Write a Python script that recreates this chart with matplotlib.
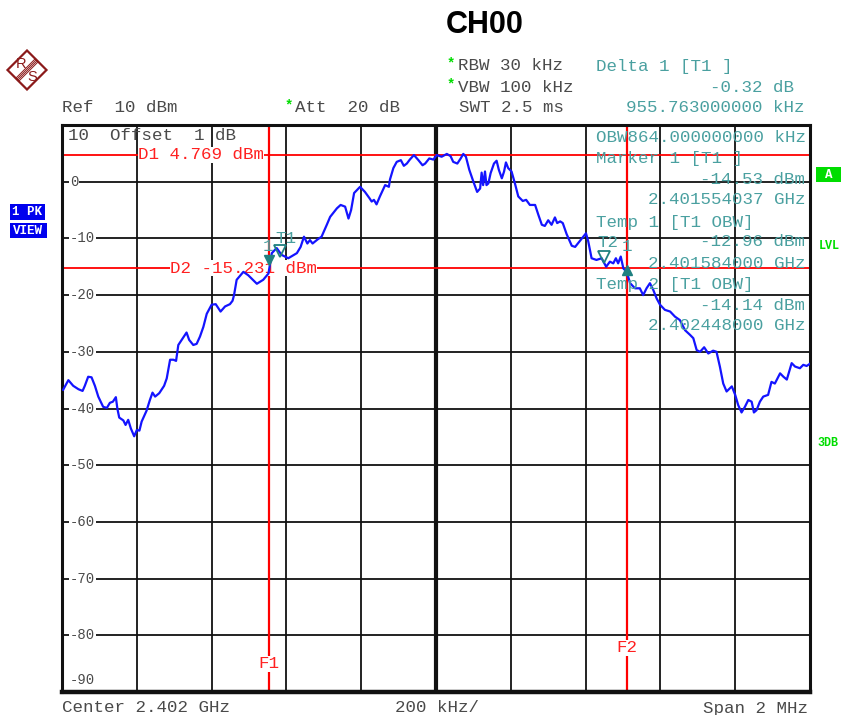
import matplotlib
matplotlib.use("Agg")
import matplotlib.pyplot as plt
import numpy as np
from matplotlib.patches import Polygon, Rectangle
import matplotlib.transforms as mtransforms

# ---------------- data ----------------
start_ghz = 2.401
center_ghz = 2.402
span_mhz = 2
# trace: frequency offset from span start (kHz) and level (dBm)
freq_offset_khz = [3, 17, 30, 44, 55, 61, 70, 79, 88, 97, 110, 120, 128, 136, 144, 148, 153, 164,
                   170, 177, 184, 193, 200, 207, 213, 226, 235, 242, 249, 260, 273, 280, 289, 298,
                   305, 311, 323, 333, 340, 351, 360, 369, 378, 387, 400, 411, 424, 436, 449, 456,
                   460, 467, 485, 498, 521, 538, 552, 561, 574, 587, 605, 628, 638, 647, 656, 663,
                   670, 683, 694, 708, 717, 735, 745, 757, 766, 773, 781, 797, 810, 822, 828, 834,
                   841, 850, 864, 874, 877, 886, 895, 906, 914, 922, 930, 941, 953, 964, 971, 982,
                   993, 1002, 1015, 1029, 1039, 1046, 1057, 1066, 1073, 1080, 1089, 1100, 1110,
                   1118, 1122, 1126, 1131, 1135, 1140, 1146, 1155, 1162, 1168, 1176, 1182, 1187,
                   1193, 1202, 1211, 1220, 1232, 1241, 1251, 1265, 1274, 1283, 1291, 1300, 1309,
                   1318, 1324, 1332, 1339, 1349, 1363, 1372, 1383, 1394, 1401, 1407, 1416, 1429,
                   1443, 1455, 1465, 1474, 1481, 1487, 1494, 1501, 1510, 1519, 1532, 1545, 1554,
                   1563, 1572, 1581, 1590, 1599, 1612, 1626, 1639, 1652, 1666, 1679, 1688, 1697,
                   1706, 1717, 1728, 1741, 1750, 1759, 1768, 1777, 1791, 1800, 1808, 1817, 1826,
                   1835, 1844, 1850, 1857, 1866, 1875, 1888, 1897, 1906, 1920, 1929, 1938, 1951,
                   1960, 1973, 1982, 1991, 2000]
level_dbm = [-36.7, -35.0, -36.0, -36.6, -36.9, -36.0, -34.4, -34.5, -36.0, -37.9, -39.7, -39.9,
             -39.0, -38.8, -38.0, -40.0, -41.6, -42.1, -42.9, -42.0, -43.5, -44.9, -43.8, -43.9,
             -42.3, -40.4, -38.5, -37.2, -37.9, -37.3, -36.0, -34.7, -31.4, -31.4, -31.6, -28.8,
             -27.6, -26.6, -27.9, -28.8, -28.6, -27.3, -25.6, -23.3, -21.7, -21.6, -22.9, -22.0,
             -21.6, -21.0, -20.0, -17.3, -15.9, -16.5, -18.0, -17.3, -16.2, -12.6, -11.7, -12.9,
             -13.5, -12.6, -11.5, -9.7, -10.9, -10.3, -10.9, -10.2, -9.7, -7.6, -6.2, -4.7, -4.1,
             -4.4, -6.5, -5.0, -2.0, -0.9, -1.8, -2.9, -3.5, -3.2, -4.0, -2.6, -0.6, -0.9, 0.4,
             2.4, 3.5, 3.8, 2.8, 3.2, 3.9, 4.7, 3.8, 2.9, 3.2, 4.1, 3.9, 4.7, 4.4, 4.9, 4.5, 3.5,
             3.2, 4.1, 4.9, 4.4, 2.1, 0.0, -1.8, -1.2, 1.6, -0.6, 1.8, -0.6, -0.3, 1.5, 3.2, 3.7,
             2.1, 0.6, 1.8, 3.4, 2.4, 1.8, -0.3, -2.6, -3.4, -3.2, -4.1, -4.1, -5.9, -7.6, -7.8,
             -6.8, -7.6, -6.3, -7.3, -7.0, -7.3, -9.2, -11.3, -11.5, -10.6, -9.7, -9.1, -10.5,
             -13.5, -13.8, -13.5, -15.0, -14.1, -14.4, -13.5, -14.4, -13.2, -15.3, -15.9, -17.9,
             -18.8, -18.8, -20.0, -18.8, -17.9, -19.1, -20.6, -21.7, -22.6, -22.9, -23.8, -24.4,
             -26.2, -27.0, -27.6, -29.7, -30.0, -29.2, -30.3, -29.8, -30.0, -32.6, -35.6, -37.0,
             -36.1, -37.6, -39.4, -40.7, -39.7, -38.5, -38.8, -40.7, -40.3, -38.8, -37.9, -37.6,
             -35.3, -35.6, -33.8, -34.4, -34.9, -32.0, -32.6, -32.9, -32.3, -32.5, -32.1]

ref_level = 10
y_bottom = -90
y_ticks = [0, -10, -20, -30, -40, -50, -60, -70, -80, -90]
D1 = 4.769
D2 = -15.231
marker1_ghz = 2.401554037
marker1_dbm = -14.53
delta1_khz = 955.763
delta1_db = -0.32
temp1_ghz, temp1_dbm = 2.401584, -12.96
temp2_ghz, temp2_dbm = 2.402448, -14.14
obw_khz = 864.0

freq_ghz = np.array([start_ghz + k / 1e6 for k in freq_offset_khz])

# ---------------- figure ----------------
W, H = 842, 715
fig = plt.figure(figsize=(W / 100, H / 100), dpi=100)
fig.patch.set_facecolor("white")
L, R, T, B = 62, 810, 125, 692
ax = fig.add_axes([L / W, 1 - B / H, (R - L) / W, (B - T) / H])

MONO = "Liberation Mono"
FS = 12.6
GRAY = "#4a4a4a"
TEAL = "#4aa0a0"
TEAL_D = "#1f8080"
RED = "#ff2020"
GREEN = "#00dd00"

x0, x1 = start_ghz, start_ghz + span_mhz / 1000
ax.set_xlim(x0, x1)
ax.set_ylim(y_bottom, ref_level)
ax.set_xticks(np.linspace(x0, x1, 11))
ax.set_yticks(y_ticks)
ax.tick_params(length=0, labelbottom=False, labelleft=False)
ax.grid(True, color="#111111", lw=1.3)
ax.axvline(center_ghz, color="#111111", lw=3, zorder=1)
for s in ax.spines.values():
    s.set_linewidth(2.2)
    s.set_color("#111111")
ax.spines["bottom"].set_linewidth(3.2)

# display lines
ax.axhline(D1, color="red", lw=1.3, zorder=2)
ax.axhline(D2, color="red", lw=1.3, zorder=2)
f1 = marker1_ghz
f2 = marker1_ghz + delta1_khz / 1e6
ax.axvline(f1, color="red", lw=1.6, zorder=2)
ax.axvline(f2, color="red", lw=1.6, zorder=2)

# trace
ax.plot(freq_ghz, level_dbm, color="#1414ff", lw=1.6, zorder=4)

def px2x(px):
    return x0 + (px - L) / (R - L) * (x1 - x0)

def py2y(py):
    return ref_level - (py - T) / (B - T) * (ref_level - y_bottom)

# y labels inside plot
bt = mtransforms.blended_transform_factory(ax.transAxes, ax.transData)
for v in y_ticks:
    yy = v if v != y_bottom else py2y(680)
    ax.text(8 / (R - L), yy, f"{v}", transform=bt, fontsize=10, family=MONO, color=GRAY,
            ha="left", va="center", zorder=3,
            bbox=dict(facecolor="white", edgecolor="none", pad=0.6))

# D1/D2 labels
ax.text(px2x(138), D1, f"D1 {D1} dBm", fontsize=FS, family=MONO, color=RED, ha="left",
        va="center", zorder=3, bbox=dict(facecolor="white", edgecolor="none", pad=0.3))
ax.text(px2x(170), D2, f"D2 {D2} dBm", fontsize=FS, family=MONO, color=RED, ha="left",
        va="center", zorder=3, bbox=dict(facecolor="white", edgecolor="none", pad=0.3))
ax.text(f1, py2y(664), "F1", fontsize=FS, family=MONO, color=RED, ha="center", va="center",
        zorder=3, bbox=dict(facecolor="white", edgecolor="none", pad=0.5))
ax.text(f2, py2y(648), "F2", fontsize=FS, family=MONO, color=RED, ha="center", va="center",
        zorder=3, bbox=dict(facecolor="white", edgecolor="none", pad=0.5))

ax.text(6 / (R - L), py2y(136), "10  Offset  1 dB", transform=bt, fontsize=FS, family=MONO,
        color=GRAY, ha="left", va="center", zorder=3)

# markers
up = mtransforms.offset_copy(ax.transData, fig=fig, x=0, y=4.5, units="dots")
dn = mtransforms.offset_copy(ax.transData, fig=fig, x=0, y=-4.5, units="dots")
ax.plot([marker1_ghz], [marker1_dbm], marker="v", ms=7.5, color=TEAL_D, transform=up, zorder=6)
ax.plot([f2], [marker1_dbm + delta1_db], marker="^", ms=7.5, color=TEAL_D, transform=dn, zorder=6)
ax.plot([temp1_ghz, temp2_ghz], [temp1_dbm, temp2_dbm], ls="none", marker="v", ms=8,
        mfc="none", mec=TEAL_D, mew=1.3, transform=up, zorder=6)
ann = dict(textcoords="offset pixels", fontsize=FS, family=MONO, color=TEAL, ha="center",
           va="center", zorder=6)
ax.annotate("1", (marker1_ghz, marker1_dbm), xytext=(-1, 18), **ann)
ax.annotate("T1", (temp1_ghz, temp1_dbm), xytext=(5, 17), **ann)
ax.annotate("T2", (temp2_ghz, temp2_dbm), xytext=(4, 19), **ann)
ax.annotate("1", (f2, marker1_dbm + delta1_db), xytext=(0, 19), **ann)

# right-side marker info (inside plot)
def ptxt(x, y, s, **kw):
    kw.setdefault("fontsize", FS)
    kw.setdefault("family", MONO)
    kw.setdefault("va", "center")
    fig.text(x / W, 1 - y / H, s, zorder=7, **kw)

ptxt(596, 137, f"OBW{obw_khz:.9f} kHz", color=TEAL)
ptxt(596, 158, "Marker 1 [T1 ]", color=TEAL)
ptxt(805, 180, f"{marker1_dbm:.2f} dBm", color=TEAL, ha="right")
ptxt(805, 200, f"{marker1_ghz:.9f} GHz", color=TEAL, ha="right")
ptxt(596, 222, "Temp 1 [T1 OBW]", color=TEAL)
ptxt(805, 242, f"{temp1_dbm:.2f} dBm", color=TEAL, ha="right")
ptxt(805, 263, f"{temp1_ghz:.9f} GHz", color=TEAL, ha="right")
ptxt(596, 284, "Temp 2 [T1 OBW]", color=TEAL)
ptxt(805, 305, f"{temp2_dbm:.2f} dBm", color=TEAL, ha="right")
ptxt(805, 326, f"{temp2_ghz:.9f} GHz", color=TEAL, ha="right")

# header
ptxt(485, 25, "CH00", fontsize=22, fontweight="bold", family="Liberation Sans", ha="center",
     color="black")
ptxt(447, 63, "*", color=GREEN, fontsize=10, fontweight="bold")
ptxt(458, 66, "RBW 30 kHz", color=GRAY)
ptxt(447, 84, "*", color=GREEN, fontsize=10, fontweight="bold")
ptxt(458, 87, "VBW 100 kHz", color=GRAY)
ptxt(459, 108, "SWT 2.5 ms", color=GRAY)
ptxt(596, 66, "Delta 1 [T1 ]", color=TEAL)
ptxt(794, 87, f"{delta1_db:.2f} dB", color=TEAL, ha="right")
ptxt(805, 108, f"{delta1_khz:.9f} kHz", color=TEAL, ha="right")
ptxt(62, 108, "Ref  10 dBm", color=GRAY)
ptxt(285, 105, "*", color=GREEN, fontsize=10, fontweight="bold")
ptxt(295, 108, "Att  20 dB", color=GRAY)

# footer
ptxt(62, 708, f"Center {center_ghz} GHz", color=GRAY)
ptxt(437, 708, f"{span_mhz * 100} kHz/", color=GRAY, ha="center")
ptxt(808, 708, f"Span {span_mhz} MHz", color=GRAY, ha="right")

# side labels
def prect(x, y, w, h, color):
    fig.add_artist(Rectangle((x / W, 1 - (y + h) / H), w / W, h / H, transform=fig.transFigure,
                             facecolor=color, edgecolor="none"))

prect(10, 204, 35, 16, "#0000ee")
prect(10, 223, 37, 15, "#0000ee")
ptxt(27, 212, "1 PK", color="white", fontsize=9, fontweight="bold", ha="center")
ptxt(28, 230.5, "VIEW", color="white", fontsize=9, fontweight="bold", ha="center")
prect(816, 167, 25, 15, "#00dd00")
ptxt(828.5, 174.5, "A", color="white", fontsize=9, fontweight="bold", ha="center")
ptxt(829, 246, "LVL", color=GREEN, fontsize=8.5, fontweight="bold", ha="center")
ptxt(828, 443, "3DB", color=GREEN, fontsize=8.5, fontweight="bold", ha="center")

# R&S logo
LOGO = "#8b1a1a"
cx, cy, r = 27, 70, 19.5
diamond = [(cx, cy - r), (cx + r, cy), (cx, cy + r), (cx - r, cy)]
fig.add_artist(Polygon([(x / W, 1 - y / H) for x, y in diamond], closed=True,
                       transform=fig.transFigure, fill=False, edgecolor=LOGO, lw=1.6))
for d in [-2.1, -0.7, 0.7, 2.1]:
    ox, oy = d / np.sqrt(2), d / np.sqrt(2)
    xa, ya, xb, yb = cx + 10 + ox, cy - 10 + oy, cx - 10 + ox, cy + 10 + oy
    fig.add_artist(plt.Line2D([xa / W, xb / W], [1 - ya / H, 1 - yb / H],
                              transform=fig.transFigure, color=LOGO, lw=0.7))
ptxt(21, 64, "R", color=LOGO, fontsize=10.5, family="Liberation Sans", ha="center")
ptxt(32.5, 77, "S", color=LOGO, fontsize=10.5, family="Liberation Sans", ha="center")

fig.savefig("out.png", dpi=100, facecolor="white")
